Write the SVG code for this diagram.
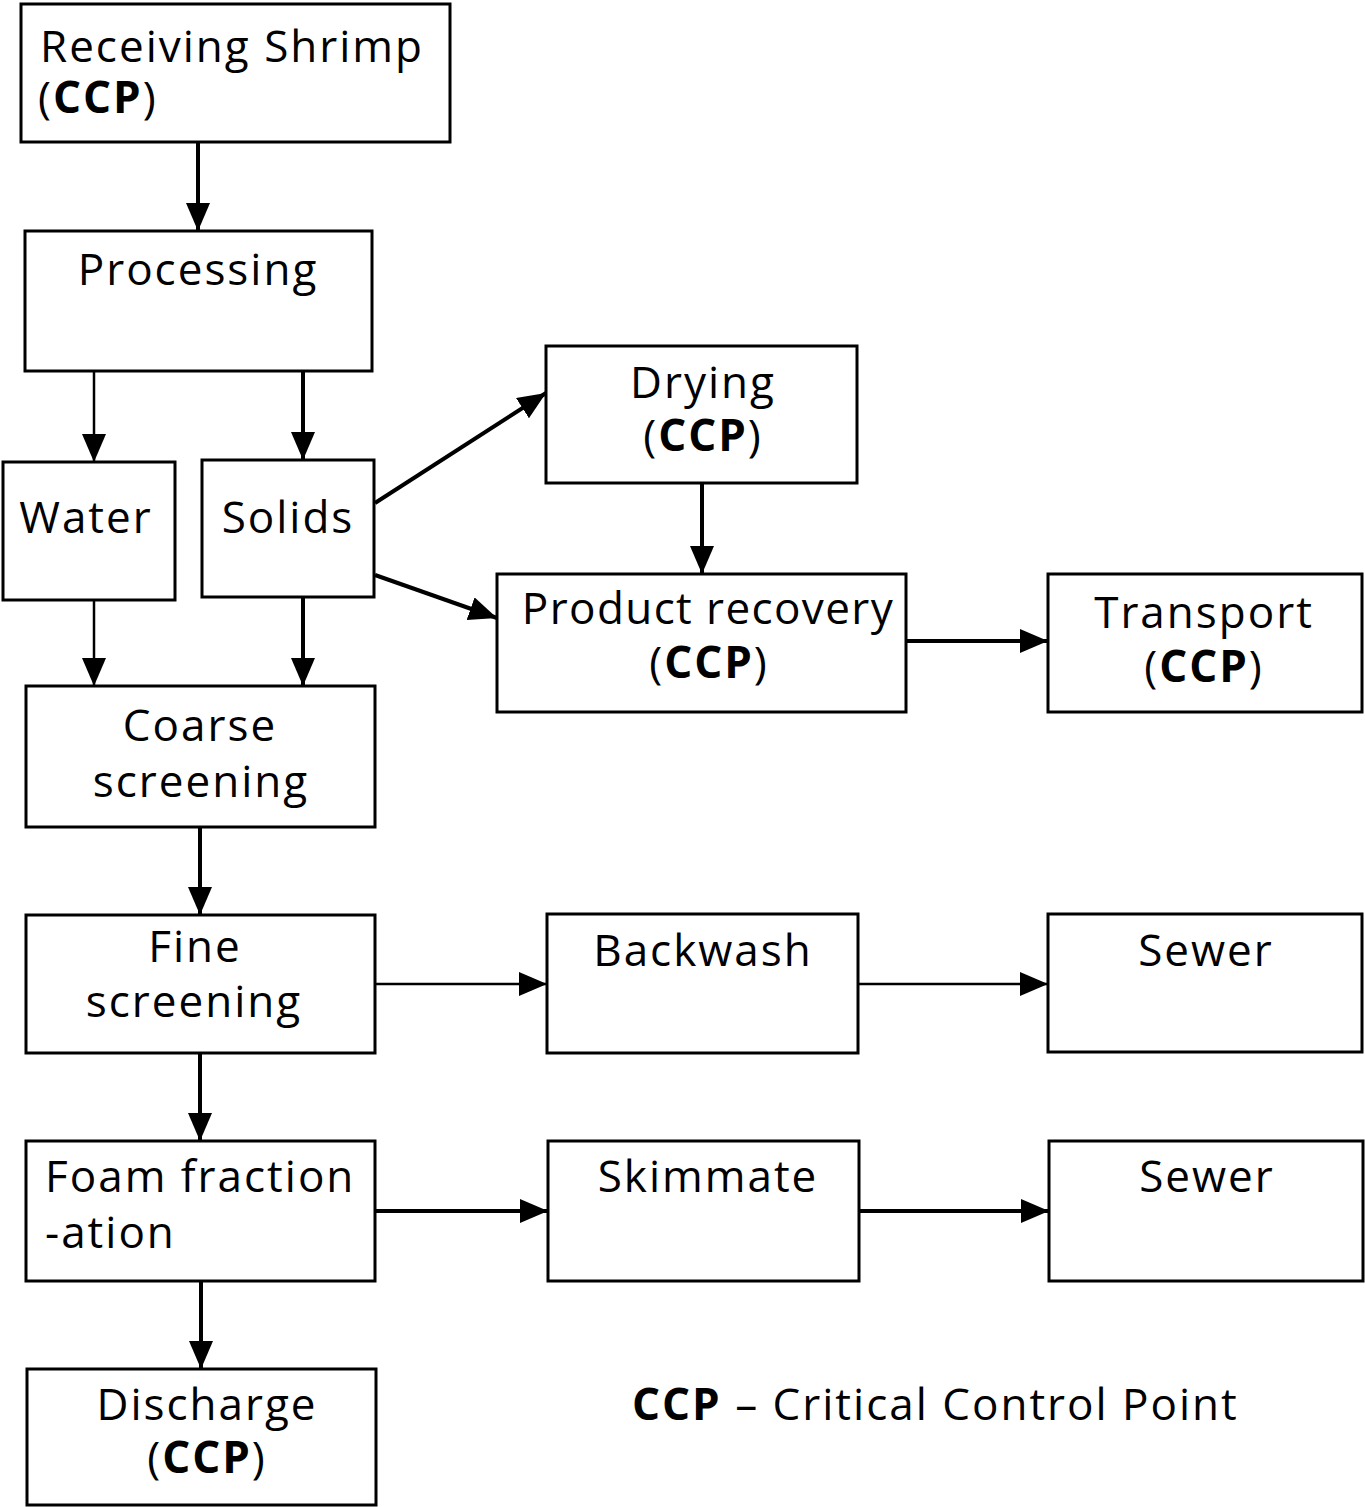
<svg xmlns="http://www.w3.org/2000/svg" width="1365" height="1507" viewBox="0 0 1365 1507">
<style>
.box{fill:#fff;stroke:#000;stroke-width:3}
text{font-family:"Open Sans","Noto Sans","DejaVu Sans",sans-serif;font-size:44px;letter-spacing:2px;fill:#000}
.c{text-anchor:middle}
.b{font-weight:bold}
.n{letter-spacing:1.4px}
.e{fill:none;stroke:#000;stroke-width:4;marker-end:url(#ah)}
.t{stroke-width:2.5}
</style>
<defs>
<marker id="ah" markerUnits="userSpaceOnUse" markerWidth="30" markerHeight="26" refX="28" refY="12" orient="auto">
<path d="M0,0 L28,12 L0,24 z" fill="#000"/>
</marker>
</defs>
<rect width="1365" height="1507" fill="#fff"/>
<g id="connectors">
<line class="e" x1="198" y1="142" x2="198" y2="231"/>
<line class="e t" x1="94" y1="371" x2="94" y2="462"/>
<line class="e" x1="303" y1="371" x2="303" y2="460"/>
<line class="e t" x1="94" y1="600" x2="94" y2="686"/>
<line class="e" x1="303" y1="597" x2="303" y2="686"/>
<line class="e" x1="375" y1="503" x2="546" y2="393"/>
<line class="e" x1="375" y1="575" x2="497" y2="618"/>
<line class="e" x1="702" y1="483" x2="702" y2="574"/>
<line class="e" x1="906" y1="641" x2="1048" y2="641"/>
<line class="e" x1="200" y1="827" x2="200" y2="915"/>
<line class="e t" x1="375" y1="984" x2="547" y2="984"/>
<line class="e t" x1="858" y1="984" x2="1048" y2="984"/>
<line class="e" x1="200" y1="1053" x2="200" y2="1141"/>
<line class="e" x1="375" y1="1211" x2="548" y2="1211"/>
<line class="e" x1="859" y1="1211" x2="1049" y2="1211"/>
<line class="e" x1="201" y1="1281" x2="201" y2="1369"/>
</g>
<g id="receiving"><rect class="box" x="21" y="4" width="429" height="138"/><text><tspan x="40" y="62">Receiving Shrimp</tspan><tspan x="38" y="113">(<tspan class="b">CCP</tspan>)</tspan></text></g>
<g id="processing"><rect class="box" x="25" y="231" width="347" height="140"/><text class="c" x="198" y="285">Processing</text></g>
<g id="water"><rect class="box" x="3" y="462" width="172" height="138"/><text class="c" x="86" y="533">Water</text></g>
<g id="solids"><rect class="box" x="202" y="460" width="172" height="137"/><text class="c" x="288" y="533">Solids</text></g>
<g id="drying"><rect class="box" x="546" y="346" width="311" height="137"/><text class="c"><tspan x="703" y="398">Drying</tspan><tspan x="703" y="451">(<tspan class="b">CCP</tspan>)</tspan></text></g>
<g id="product-recovery"><rect class="box" x="497" y="574" width="409" height="138"/><text class="c"><tspan class="n" x="708" y="624">Product recovery</tspan><tspan x="709" y="678">(<tspan class="b">CCP</tspan>)</tspan></text></g>
<g id="transport"><rect class="box" x="1048" y="574" width="314" height="138"/><text class="c"><tspan x="1204" y="628">Transport</tspan><tspan x="1204" y="682">(<tspan class="b">CCP</tspan>)</tspan></text></g>
<g id="coarse"><rect class="box" x="26" y="686" width="349" height="141"/><text class="c"><tspan x="200" y="741">Coarse</tspan><tspan x="201" y="797">screening</tspan></text></g>
<g id="fine"><rect class="box" x="26" y="915" width="349" height="138"/><text class="c"><tspan x="195" y="962">Fine</tspan><tspan x="194" y="1017">screening</tspan></text></g>
<g id="backwash"><rect class="box" x="547" y="914" width="311" height="139"/><text class="c" x="703" y="966">Backwash</text></g>
<g id="sewer1"><rect class="box" x="1048" y="914" width="314" height="138"/><text class="c" x="1206" y="966">Sewer</text></g>
<g id="foam"><rect class="box" x="26" y="1141" width="349" height="140"/><text><tspan x="45" y="1192">Foam fraction</tspan><tspan x="45" y="1248">-ation</tspan></text></g>
<g id="skimmate"><rect class="box" x="548" y="1141" width="311" height="140"/><text class="c" x="708" y="1192">Skimmate</text></g>
<g id="sewer2"><rect class="box" x="1049" y="1141" width="314" height="140"/><text class="c" x="1207" y="1192">Sewer</text></g>
<g id="discharge"><rect class="box" x="27" y="1369" width="349" height="136"/><text class="c"><tspan x="207" y="1420">Discharge</tspan><tspan x="207" y="1473">(<tspan class="b">CCP</tspan>)</tspan></text></g>
<g id="legend"><text x="632" y="1420"><tspan class="b">CCP</tspan> – Critical Control Point</text></g>
</svg>
